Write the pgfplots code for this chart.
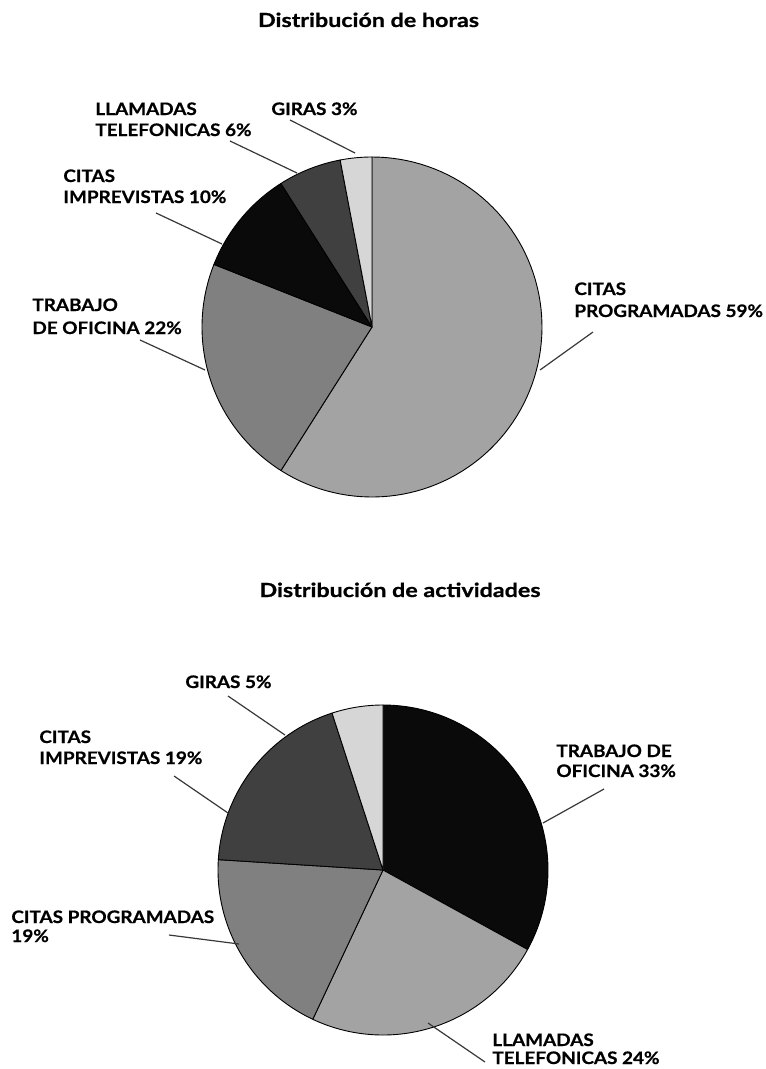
\documentclass[border=0pt]{standalone}
\usepackage{pgfplots}
\pgfplotsset{compat=1.18}
\usepackage{pgfplotstable}
\usepackage{fontspec}
\setmainfont{Lato}
\newfontfamily\labfont{Lato}[BoldFeatures={FakeStretch=1.1, FakeBold=0.6}]
\newfontfamily\ttlfont{Lato}[BoldFeatures={FakeStretch=1.2, FakeBold=0.9}]

\definecolor{cLight}{gray}{0.64}
\definecolor{cMed}{gray}{0.50}
\definecolor{cDark}{gray}{0.25}
\definecolor{cBlack}{gray}{0.04}
\definecolor{cVLight}{gray}{0.84}
\definecolor{leader}{gray}{0.22}

% slices clockwise from 12 o'clock
\pgfplotstableread{
pct color
59 cLight
22 cMed
10 cBlack
6  cDark
3  cVLight
}\horas

\pgfplotstableread{
pct color
33 cBlack
24 cLight
19 cMed
19 cDark
5  cVLight
}\actividades

% #1 table, #2 cx, #3 cy, #4 r (pixel units, y downwards)
\newcommand{\drawpie}[4]{%
  \def\cum{0}%
  \pgfplotstablegetrowsof{#1}%
  \pgfmathtruncatemacro\nrows{\pgfplotsretval-1}%
  \pgfplotsforeachungrouped \i in {0,...,\nrows}{%
    \pgfplotstablegetelem{\i}{pct}\of{#1}\let\p\pgfplotsretval
    \pgfplotstablegetelem{\i}{color}\of{#1}\let\c\pgfplotsretval
    \pgfmathsetmacro\a{90-3.6*(\cum+\p)}%
    \pgfmathsetmacro\b{90-3.6*\cum}%
    \edef\temp{\noexpand\addplot[draw=black, line width=0.45pt, fill=\c,
      domain=\a:\b, samples=90, line join=round]
      ({#2+#4*cos(x)},{#3-#4*sin(x)}) -- (axis cs:#2,#3) -- cycle;}%
    \temp
    \pgfmathsetmacro\cum{\cum+\p}%
  }%
}

\newcommand{\lab}{\labfont\fontsize{8.6}{10}\selectfont\bfseries}
\newcommand{\ttl}{\ttlfont\fontsize{9.7}{12}\selectfont\bfseries}

\begin{document}
\begin{tikzpicture}
\begin{axis}[
  width=382.5pt, height=534.5pt, scale only axis,
  xmin=0, xmax=765, ymin=0, ymax=1069, y dir=reverse,
  hide axis, clip=false,
]
\drawpie{\horas}{372}{327}{170}
\drawpie{\actividades}{383}{870}{165}

% titles
\node[anchor=base, inner sep=0] at (axis cs:368.5,27) {\ttl Distribución de horas};
\node[anchor=base, inner sep=0] at (axis cs:400,597) {\ttl Distribución de actividades};

% pie 1 labels
\tikzset{lbl/.style={anchor=base west, inner sep=0}}
\node[lbl] at (axis cs:95,115) {\lab LLAMADAS};
\node[lbl] at (axis cs:95,136) {\lab TELEFONICAS 6\%};
\node[lbl] at (axis cs:271,115) {\lab GIRAS 3\%};
\node[lbl] at (axis cs:63,182) {\lab CITAS};
\node[lbl] at (axis cs:63,203) {\lab IMPREVISTAS 10\%};
\node[lbl] at (axis cs:32,311) {\lab TRABAJO};
\node[lbl] at (axis cs:32,334) {\lab DE OFICINA 22\%};
\node[lbl] at (axis cs:574,295) {\lab CITAS};
\node[lbl] at (axis cs:574,317) {\lab PROGRAMADAS 59\%};

\draw[leader, line width=0.6pt] (axis cs:290,120) -- (axis cs:355,153);
\draw[leader, line width=0.6pt] (axis cs:230,141) -- (axis cs:297,173);
\draw[leader, line width=0.6pt] (axis cs:156,213) -- (axis cs:222,244);
\draw[leader, line width=0.6pt] (axis cs:140,340) -- (axis cs:205,370);
\draw[leader, line width=0.6pt] (axis cs:593,332) -- (axis cs:540,370);

% pie 2 labels
\node[lbl] at (axis cs:185,688) {\lab GIRAS 5\%};
\node[lbl] at (axis cs:39,743) {\lab CITAS};
\node[lbl] at (axis cs:39,764) {\lab IMPREVISTAS 19\%};
\node[lbl] at (axis cs:556,757) {\lab TRABAJO DE};
\node[lbl] at (axis cs:556,777) {\lab OFICINA 33\%};
\node[lbl] at (axis cs:11,923) {\lab CITAS PROGRAMADAS};
\node[lbl] at (axis cs:11,942) {\lab 19\%};
\node[lbl] at (axis cs:492,1046) {\lab LLAMADAS};
\node[lbl] at (axis cs:492,1064) {\lab TELEFONICAS 24\%};

\draw[leader, line width=0.6pt] (axis cs:228,696) -- (axis cs:285,735);
\draw[leader, line width=0.6pt] (axis cs:174,776) -- (axis cs:228,813);
\draw[leader, line width=0.6pt] (axis cs:604,789) -- (axis cs:543,823);
\draw[leader, line width=0.6pt] (axis cs:169,935) -- (axis cs:239,944);
\draw[leader, line width=0.6pt] (axis cs:428,1023) -- (axis cs:485,1062);
\end{axis}
\pgfresetboundingbox
\path (current axis.south west) rectangle (current axis.north east);
\end{tikzpicture}
\end{document}
